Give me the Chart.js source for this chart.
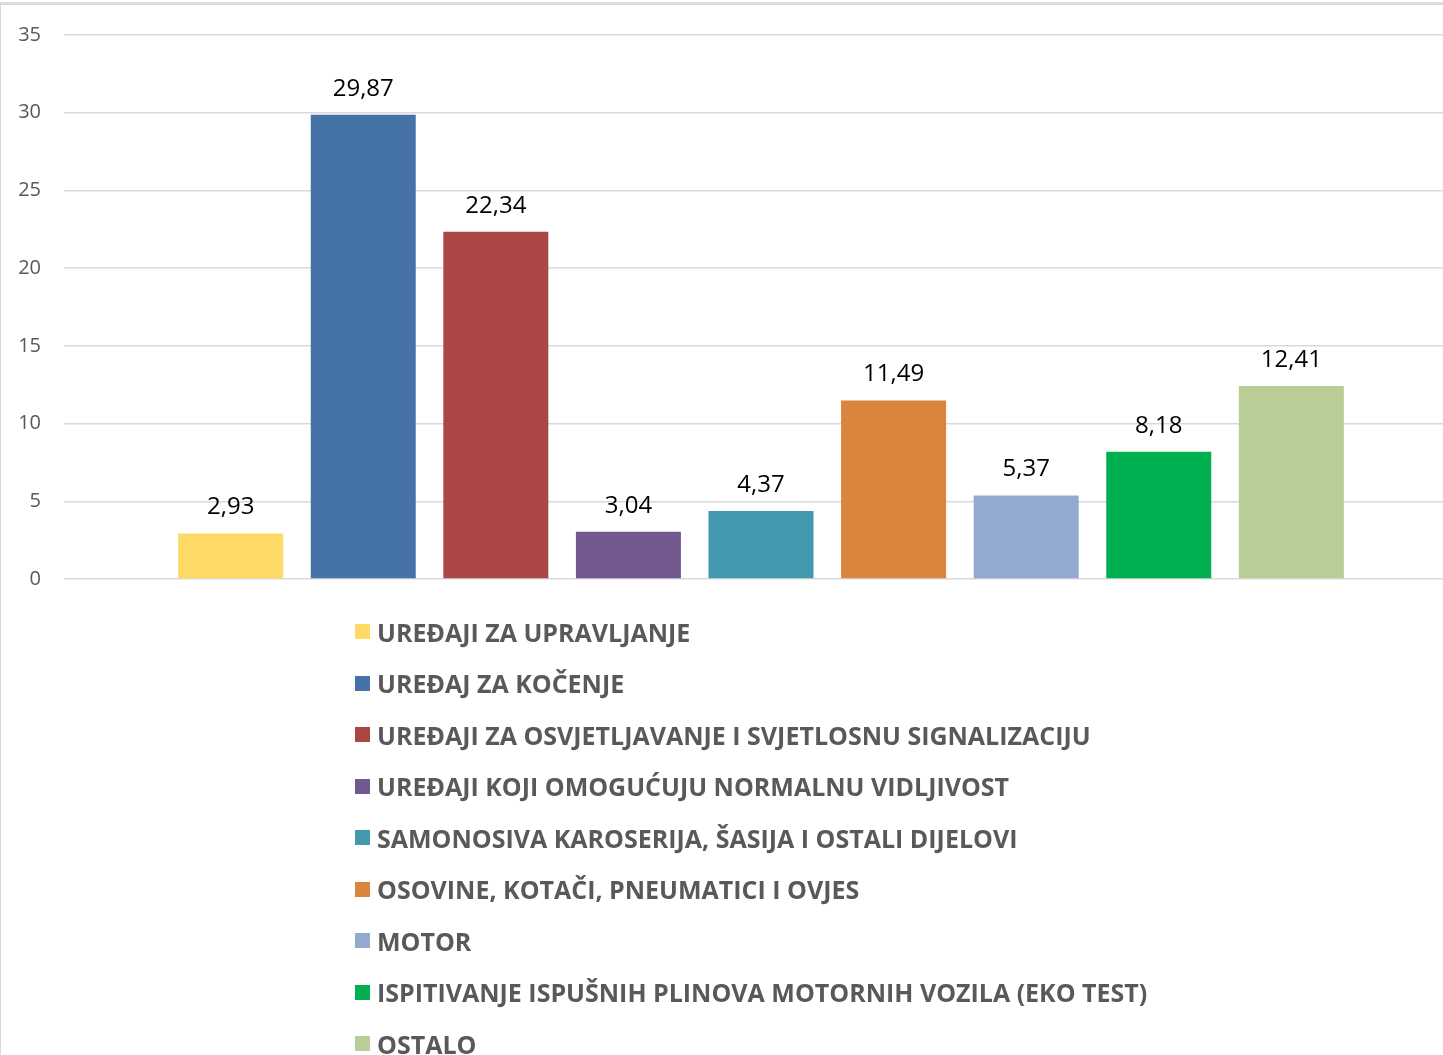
<!DOCTYPE html>
<html>
<head>
<meta charset="utf-8">
<script src="https://cdn.jsdelivr.net/npm/chart.js@4.4.1/dist/chart.umd.min.js"></script>
<style>
    html, body { margin: 0; padding: 0; background: #fff; overflow: hidden; }
    body { width: 1443px; height: 1055px; position: relative; }
    .frame {
        position: absolute; left: 0; top: 2px; width: 1460px; height: 1100px;
        border-top: 3px solid #dcdcdc; border-left: 1px solid #d9d9d9;
    }
    .plot { position: absolute; left: 0; top: 0; width: 1460px; height: 614px; }
    #legend {
        position: absolute; left: 355px; top: 606px;
        font-family: "Open Sans", sans-serif; font-weight: 700; font-size: 25px;
        color: #595959;
    }
    .item { height: 51.5px; display: flex; align-items: center; white-space: nowrap; }
    .swatch { width: 15px; height: 15px; margin-right: 7px; flex: none; }
</style>
</head>
<body>
<div class="frame"></div>
<div class="plot"><canvas id="myChart" width="1460" height="614"></canvas></div>
<div id="legend"></div>
<script>
const categories = [
    'UREĐAJI ZA UPRAVLJANJE',
    'UREĐAJ ZA KOČENJE',
    'UREĐAJI ZA OSVJETLJAVANJE I SVJETLOSNU SIGNALIZACIJU',
    'UREĐAJI KOJI OMOGUĆUJU NORMALNU VIDLJIVOST',
    'SAMONOSIVA KAROSERIJA, ŠASIJA I OSTALI DIJELOVI',
    'OSOVINE, KOTAČI, PNEUMATICI I OVJES',
    'MOTOR',
    'ISPITIVANJE ISPUŠNIH PLINOVA MOTORNIH VOZILA (EKO TEST)',
    'OSTALO'
];
const values = [2.93, 29.87, 22.34, 3.04, 4.37, 11.49, 5.37, 8.18, 12.41];
const colors = ['#FFD966', '#4572A7', '#AA4643', '#71588F', '#4198AF', '#DB843D', '#93A9CF', '#00B050', '#B9CD96'];
const yTicks = [0, 5, 10, 15, 20, 25, 30, 35];

const datasets = categories.map((name, i) => ({
    label: name,
    data: [values[i]],
    backgroundColor: colors[i],
    borderWidth: 0,
    barPercentage: 0.792,
    categoryPercentage: 0.856
}));

// values above each bar, decimal comma
const valueLabels = {
    id: 'valueLabels',
    afterDatasetsDraw(chart) {
        const ctx = chart.ctx;
        ctx.save();
        ctx.font = '24px "Open Sans"';
        ctx.fillStyle = '#000';
        ctx.textAlign = 'center';
        ctx.textBaseline = 'middle';
        chart.data.datasets.forEach((ds, i) => {
            const bar = chart.getDatasetMeta(i).data[0];
            ctx.fillText(ds.data[0].toFixed(2).replace('.', ','), bar.x, bar.y - 26);
        });
        ctx.restore();
    }
};

new Chart(document.getElementById('myChart'), {
    type: 'bar',
    data: { labels: [''], datasets: datasets },
    options: {
        responsive: false,
        animation: false,
        layout: { padding: { top: 34, bottom: 8, left: 0, right: 2 } },
        plugins: { legend: { display: false }, tooltip: { enabled: false } },
        scales: {
            x: { display: false },
            y: {
                min: yTicks[0],
                max: yTicks[yTicks.length - 1],
                afterFit(scale) { scale.width = 64; },
                afterBuildTicks(scale) { scale.ticks = yTicks.map(v => ({ value: v })); },
                border: { display: false },
                grid: { color: '#d9d9d9', lineWidth: 1.5, drawTicks: false },
                ticks: {
                    padding: 23,
                    color: '#595959',
                    font: { family: 'Open Sans', size: 20 }
                }
            }
        }
    },
    plugins: [valueLabels]
});

const legend = document.getElementById('legend');
categories.forEach((name, i) => {
    const row = document.createElement('div');
    row.className = 'item';
    const sw = document.createElement('span');
    sw.className = 'swatch';
    sw.style.background = colors[i];
    const txt = document.createElement('span');
    txt.className = 'txt';
    txt.textContent = name;
    row.appendChild(sw);
    row.appendChild(txt);
    legend.appendChild(row);
});
</script>
</body>
</html>
